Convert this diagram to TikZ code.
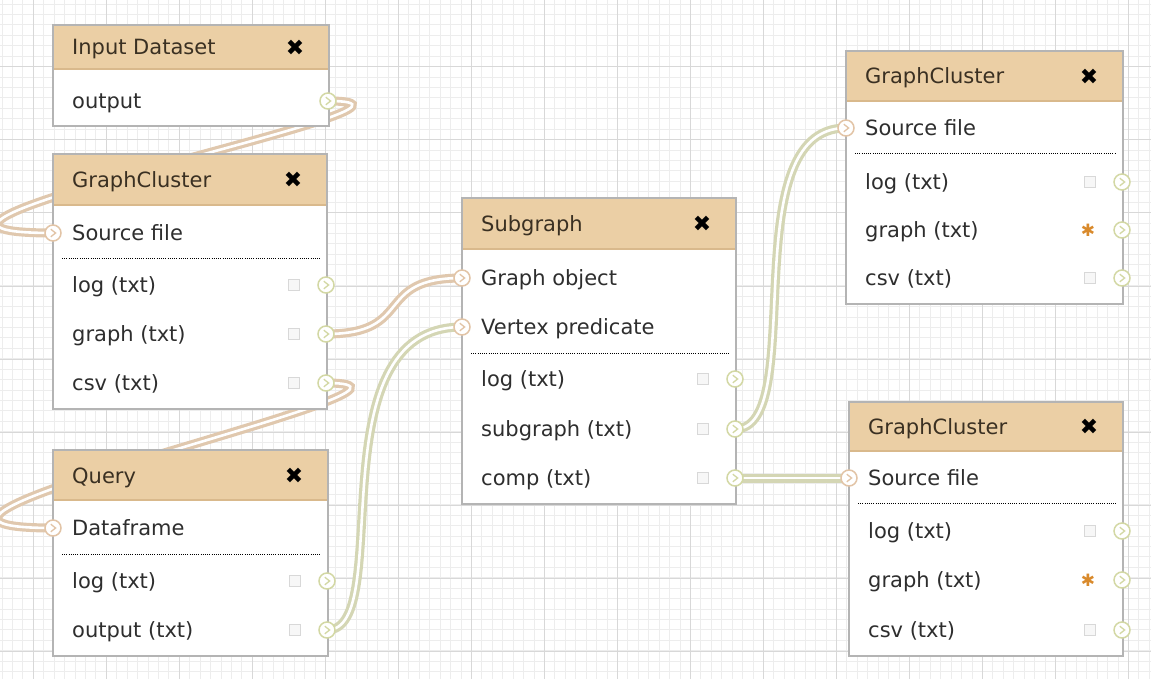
\documentclass[tikz,border=0pt]{standalone}
\usepackage{fontspec}
\setmainfont{DejaVu Sans}
\usetikzlibrary{calc}
\pgfdeclarelayer{gridlayer}
\pgfdeclarelayer{wirelayer}
\pgfsetlayers{gridlayer,wirelayer,main}
\definecolor{titletan}{HTML}{EBCFA5}
\definecolor{titlelinecol}{HTML}{D9B98C}
\definecolor{boxline}{HTML}{B4B4B4}
\definecolor{titleink}{HTML}{3A3022}
\definecolor{rowink}{HTML}{2E2E2E}
\definecolor{minorgridcol}{HTML}{EDEDED}
\definecolor{majorgridcol}{HTML}{D8D8D8}
\definecolor{cinterm}{HTML}{E2C4A6}
\definecolor{couterm}{HTML}{D3D8A4}
\definecolor{wireAedge}{HTML}{E0C8AE}
\definecolor{wireAfill}{HTML}{F6E9DB}
\definecolor{wireBedge}{HTML}{D4D6B4}
\definecolor{wireBfill}{HTML}{F3F3E0}
\definecolor{chkline}{HTML}{D8D8D8}
\definecolor{chkfill}{HTML}{F7F7F7}
\definecolor{staricon}{HTML}{D98A2C}
\tikzset{
  boxbody/.style={draw=boxline, fill=white, line width=1.2pt, inner sep=0pt, rectangle},
  titlebar/.style={fill=titletan, inner sep=0pt, rectangle},
  titletext/.style={anchor=west, inner sep=0pt, text height=15pt, text depth=0pt,
    font=\fontsize{21}{25}\selectfont, text=titleink},
  rowtext/.style={anchor=west, inner sep=0pt, text height=15pt, text depth=0pt,
    font=\fontsize{21}{25}\selectfont, text=rowink},
  closex/.style={inner sep=0pt, font=\fontsize{22}{25}\selectfont, text=black},
  chk/.style={rectangle, minimum size=11pt, inner sep=0pt, draw=chkline, fill=chkfill, line width=1pt},
  staric/.style={inner sep=0pt, font=\fontsize{17}{19}\selectfont, text=staricon},
  termbase/.style={circle, minimum size=16pt, inner sep=0pt, fill=white, line width=1.5pt, draw=#1,
    path picture={\draw[draw=#1, line width=1.3pt]
      ([shift={(-2.2pt,3.8pt)}]path picture bounding box.center) --
      ([shift={(2.6pt,0pt)}]path picture bounding box.center) --
      ([shift={(-2.2pt,-3.8pt)}]path picture bounding box.center);}},
  interm/.style={termbase=cinterm},
  outterm/.style={termbase=couterm},
  sepline/.style={draw=black, line width=0.9pt, dash pattern=on 1pt off 1.2pt},
  wireA/.style={draw=white, line width=2.6pt,
    preaction={draw=wireAfill, line width=7pt},
    preaction={draw=wireAedge, line width=9pt}},
  wireB/.style={draw=white, line width=2.6pt,
    preaction={draw=wireBfill, line width=7pt},
    preaction={draw=wireBedge, line width=9pt}},
}
% #1 name, #2 x1, #3 x2, #4 top, #5 title bottom, #6 bottom, #7 title
\newcommand\wfbox[7]{%
  \node[boxbody, minimum width={#3-#2}, minimum height={#6-#4}, anchor=north west] (#1) at (#2,#4) {};
  \node[titlebar, minimum width={#3-#2}, minimum height={#5-#4}, anchor=north west] (#1t) at (#2,#4) {};
  \draw[titlelinecol, line width=2.5pt] ($(#1t.south west)+(0.6,-1.2)$) -- ($(#1t.south east)+(-0.6,-1.2)$);
  \draw[boxline, line width=1.2pt] (#1.north west) rectangle (#1.south east);
  \node[titletext] (#1tt) at ({#2+19},{(#4+#5)/2}) {#7};
  \node[closex] (#1x) at ({#3-33},{(#4+#5)/2}) {✖};
}
% #1 name, #2 x1, #3 y, #4 label
\newcommand\wfin[4]{%
  \node[rowtext] (#1) at ({#2+19},#3) {#4};
  \node[interm] (#1i) at (#2,#3) {};
}
% #1 name, #2 x1, #3 x2, #4 y, #5 label
\newcommand\wfout[5]{%
  \node[rowtext] (#1) at ({#2+19},#4) {#5};
  \node[chk] (#1c) at ({#3-32},#4) {};
  \node[outterm] (#1o) at (#3,#4) {};
}
\newcommand\wfoutstar[5]{%
  \node[rowtext] (#1) at ({#2+19},#4) {#5};
  \node[staric] (#1c) at ({#3-34},#4) {✱};
  \node[outterm] (#1o) at (#3,#4) {};
}
\newcommand\wfsep[3]{\draw[sepline] ({#1+9},#3) -- ({#2-6},#3);}

\begin{document}
\begin{tikzpicture}[x=1pt,y=-1pt]
\useasboundingbox (0,0) rectangle (1151,679);
\begin{pgfonlayer}{gridlayer}
  \fill[white] (0,0) rectangle (1151,679);
  \foreach \i in {0,...,112} {
    \draw[minorgridcol, line width=0.8pt] ({\i*10.43+2},0) -- ({\i*10.43+2},679);
  }
  \foreach \i in {0,...,66} {
    \draw[minorgridcol, line width=0.8pt] (0,{\i*10.43+4}) -- (1151,{\i*10.43+4});
  }
  \foreach \i in {0,...,16} {
    \draw[majorgridcol, line width=1pt] ({\i*73+33},0) -- ({\i*73+33},679);
  }
  \foreach \i in {0,...,9} {
    \draw[majorgridcol, line width=1pt] (0,{\i*73-6}) -- (1151,{\i*73-6});
  }
\end{pgfonlayer}

% Input Dataset
\wfbox{b1}{53}{328}{25}{70}{125}{Input Dataset}
\node[rowtext] (b1r1) at (72,101) {output};
\node[outterm] (b1r1o) at (328,101) {};

% GraphCluster (left)
\wfbox{b2}{53}{326}{154}{206}{408}{GraphCluster}
\wfin{b2r1}{53}{233}{Source file}
\wfsep{53}{326}{258}
\wfout{b2r2}{53}{326}{285}{log (txt)}
\wfout{b2r3}{53}{326}{334}{graph (txt)}
\wfout{b2r4}{53}{326}{383}{csv (txt)}

% Query
\wfbox{b3}{53}{327}{450}{501}{655}{Query}
\wfin{b3r1}{53}{528}{Dataframe}
\wfsep{53}{327}{554}
\wfout{b3r2}{53}{327}{581}{log (txt)}
\wfout{b3r3}{53}{327}{630}{output (txt)}

% Subgraph
\wfbox{b4}{462}{735}{198}{250}{503}{Subgraph}
\wfin{b4r1}{462}{278}{Graph object}
\wfin{b4r2}{462}{327}{Vertex predicate}
\wfsep{462}{735}{353}
\wfout{b4r3}{462}{735}{379}{log (txt)}
\wfout{b4r4}{462}{735}{429}{subgraph (txt)}
\wfout{b4r5}{462}{735}{478}{comp (txt)}

% GraphCluster (top right)
\wfbox{b5}{846}{1122}{51}{102}{303}{GraphCluster}
\wfin{b5r1}{846}{128}{Source file}
\wfsep{846}{1122}{153}
\wfout{b5r2}{846}{1122}{182}{log (txt)}
\wfoutstar{b5r3}{846}{1122}{230}{graph (txt)}
\wfout{b5r4}{846}{1122}{278}{csv (txt)}

% GraphCluster (bottom right)
\wfbox{b6}{849}{1122}{402}{452}{655}{GraphCluster}
\wfin{b6r1}{849}{478}{Source file}
\wfsep{849}{1122}{503}
\wfout{b6r2}{849}{1122}{531}{log (txt)}
\wfoutstar{b6r3}{849}{1122}{580}{graph (txt)}
\wfout{b6r4}{849}{1122}{630}{csv (txt)}

\begin{pgfonlayer}{wirelayer}
  \draw[wireA] (b1r1o.center) .. controls +(160,0) and +(-250,0) .. (b2r1i.center);
  \draw[wireA] (b2r4o.center) .. controls +(160,0) and +(-250,0) .. (b3r1i.center);
  \draw[wireA] (b2r3o.center) .. controls +(90,0) and +(-90,0) .. (b4r1i.center);
  \draw[wireB] (b3r3o.center) .. controls +(70,0) and +(-150,0) .. (b4r2i.center);
  \draw[wireB] (b4r4o.center) .. controls +(75,0) and +(-115,0) .. (b5r1i.center);
  \draw[wireB] (b4r5o.center) .. controls +(40,0) and +(-40,0) .. (b6r1i.center);
\end{pgfonlayer}
\end{tikzpicture}
\end{document}
